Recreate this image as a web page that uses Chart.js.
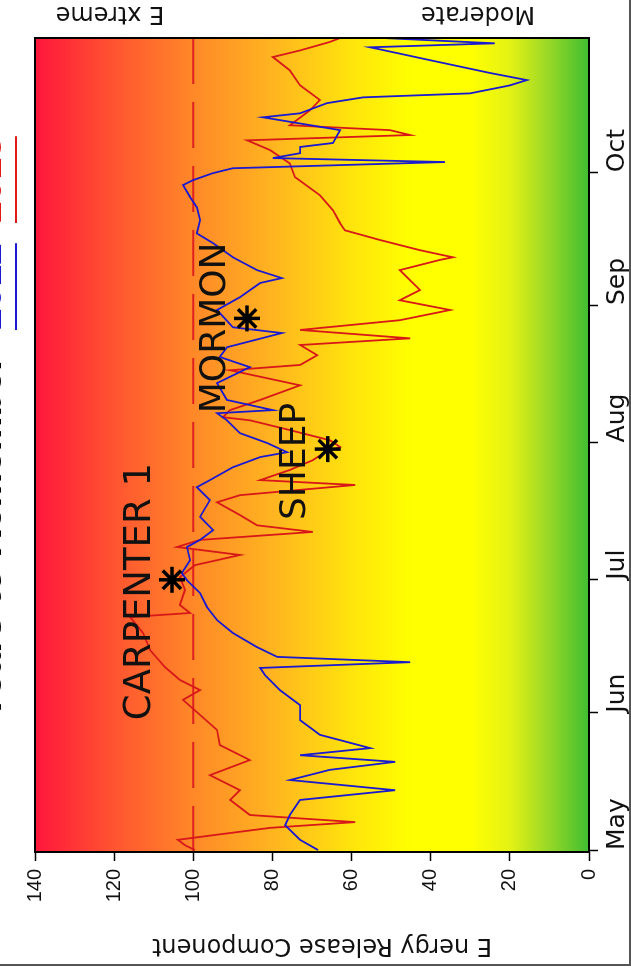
<!DOCTYPE html>
<html>
<head>
<meta charset="utf-8">
<script src="https://cdn.jsdelivr.net/npm/chart.js@4.4.1/dist/chart.umd.min.js"></script>
<style>
  html, body { margin: 0; padding: 0; background: #fff; overflow: hidden; }
  /* chart is drawn landscape, then turned a quarter counter-clockwise */
  #wrap { position: absolute; left: 0; top: 0; width: 968px; height: 631px;
          transform-origin: 0 0; transform: translate(0, 968px) rotate(-90deg); }
</style>
</head>
<body>
<div id="wrap"><canvas id="ercChart" width="968" height="631"></canvas></div>
<script>
// Axis ticks (day index counted from May 1)
const monthLabels = ['May', 'Jun', 'Jul', 'Aug', 'Sep', 'Oct'];
const monthDays = [0, 31, 61, 92, 123, 153];
const ercTicks = [0, 20, 40, 60, 80, 100, 120, 140];

// 2012 season (blue)
const days2012 = [0, 2.3, 5.6, 7.9, 11.3, 13.5, 15.8, 18.1, 19.9, 21.4, 23.0, 26.0, 29.3, 32.7, 36.1, 39.5,
  41.1, 42.4, 43.6, 45.8, 49.0, 51.9, 54.8, 58.0, 60.9, 62.5, 65.4, 68.4, 70.0, 72.2, 75.2, 79.0,
  81.9, 83.5, 86.4, 88.7, 89.8, 91.9, 94.1, 97.0, 98.6, 99.3, 101.6, 105.4, 109.0, 111.3, 113.5, 116.7,
  118.0, 121.9, 124.8, 128.0, 129.1, 130.9, 133.8, 137.0, 139.2, 142.2, 145.1, 147.4, 150.1, 151.2,
  152.8, 153.9, 155.3, 156.2, 157.3, 158.7, 159.6, 162.5, 165.4, 166.3, 168.6, 169.9, 170.8, 172.6,
  173.8, 175.4, 176.7, 178.3, 179.9, 181.2, 182.1, 183.3];
const erc2012 = [68.5, 73, 76.8, 75.6, 73, 49, 75.6, 65.5, 49, 73, 55.3, 68, 73, 73, 78.1, 81.9,
  83.1, 45.2, 78.8, 83.9, 90, 94, 96.5, 98.3, 101.6, 102.9, 100.8, 101.6, 98.3, 95, 98.3, 95.8,
  99.1, 95.8, 90, 83.1, 76.3, 81.4, 88.2, 91.5, 94, 79.9, 91.5, 94, 85.7, 93.3, 91.5, 77.6,
  90, 94, 88.2, 83.1, 77.6, 83.9, 90, 95, 99.1, 98.3, 99.1, 100.8, 102.6, 100.1,
  95, 90, 36.4, 79.9, 73, 73, 64.7, 62.9, 82.4, 73, 66.2, 57.1, 30.1, 20,
  15.7, 25, 31.8, 40.2, 48.5, 55.3, 23.8, 52.1];

// 2013 season (red)
const days2013 = [0, 1.1, 2.3, 3.4, 5.0, 6.3, 7.9, 11.3, 13.5, 16.9, 20.3, 23.7, 27.1, 30.5, 33.9, 36.1,
  38.4, 41.3, 45.1, 49.0, 52.6, 53.5, 55.3, 58.7, 61.6, 64.3, 66.6, 68.4, 70.0, 71.8, 73.3, 75.6,
  78.5, 80.1, 82.4, 83.5, 85.8, 88.0, 89.8, 91.0, 92.5, 94.8, 97.0, 97.7, 99.3, 101.6, 104.9, 108.3,
  109.5, 111.7, 114.0, 115.5, 117.4, 119.6, 121.9, 124.1, 126.4, 128.6, 130.9, 133.2, 133.8, 135.4,
  137.7, 139.9, 141.5, 144.4, 147.8, 151.9, 155.0, 158.0, 160.2, 161.4, 162.5, 163.6, 167.0, 169.3,
  172.6, 176.0, 179.0, 180.5, 182.4, 183.3];
const erc2013 = [99.6, 102.1, 103.9, 94.5, 80.6, 59.1, 85.7, 90.7, 88.2, 95.8, 85.7, 93.3, 94, 98.3, 102.6, 98.3,
  103.4, 107.2, 110.9, 112.7, 116, 100.8, 103.4, 102.1, 103.4, 99.6, 88.2, 104.1, 98.3, 69.8, 83.9, 88.2,
  94, 88.2, 59.1, 83.1, 75.6, 69.8, 66.7, 62.9, 65.5, 75.6, 85.7, 92.5, 90.7, 83.1, 73, 90.7,
  73, 68.7, 73, 45.2, 73, 47.8, 35.1, 47.8, 42.7, 45.2, 47.8, 37.7, 34.4, 42.7,
  52.8, 61.7, 62.9, 64.7, 68, 74.3, 75.6, 80.6, 86.4, 45.2, 50.3, 75.6, 70.5, 68,
  73, 75.6, 79.9, 73, 65.5, 62.9];

// Fire starts
const fireNames = ['CARPENTER 1', 'SHEEP', 'MORMON'];
const fireDays = [61, 90.5, 120];
const fireErc = [105.4, 66, 86.4];

const extremeErc = 100;
const dayMin = -0.45;
const dayMax = 183.3;

function pairs(xs, ys) {
    return xs.map((x, i) => ({ x: x, y: ys[i] }));
}

// where each fire name sits (day of first letter, ERC of baseline)
const labelSpots = [
    { day: 29.3, erc: 110.9, size: 37 },
    { day: 74.5, erc: 71.8, size: 36 },
    { day: 98.6, erc: 92, size: 36 }
];

const decor = {
    id: 'decor',
    beforeDatasetsDraw(chart) {
        const { ctx, chartArea: a, scales: { y } } = chart;
        const y0 = y.getPixelForValue(0);
        const y1 = y.getPixelForValue(140);
        const g = ctx.createLinearGradient(0, y0, 0, y1);
        const stops = [
            [0, 'rgb(64,190,48)'], [10, 'rgb(150,215,40)'], [20, 'rgb(228,242,20)'],
            [30, 'rgb(255,255,0)'], [45, 'rgb(255,255,0)'], [60, 'rgb(255,228,12)'],
            [80, 'rgb(255,180,32)'], [100, 'rgb(255,136,40)'], [120, 'rgb(255,84,48)'],
            [140, 'rgb(255,22,60)']
        ];
        stops.forEach(s => g.addColorStop(s[0] / 140, s[1]));
        ctx.save();
        ctx.fillStyle = g;
        ctx.fillRect(a.left, a.top, a.width, a.height);
        ctx.restore();
    },
    afterDatasetsDraw(chart) {
        const { ctx, chartArea: a, scales: { x, y } } = chart;
        ctx.save();
        ctx.fillStyle = '#111';
        ctx.textAlign = 'left';
        ctx.textBaseline = 'alphabetic';
        fireNames.forEach((name, i) => {
            const s = labelSpots[i];
            ctx.font = s.size + 'px "DejaVu Sans"';
            ctx.fillText(name, x.getPixelForValue(s.day), y.getPixelForValue(s.erc));
        });
        ctx.strokeStyle = '#000';
        ctx.lineWidth = 2;
        ctx.strokeRect(a.left, a.top, a.width, a.height);
        ctx.restore();
    },
    afterDraw(chart) {
        const { ctx, width, height, chartArea: a } = chart;
        ctx.save();
        // title, mostly running off the top edge
        ctx.font = 'bold 39px "Liberation Sans"';
        ctx.textBaseline = 'alphabetic';
        ctx.textAlign = 'left';
        ctx.fillStyle = '#000';
        ctx.fillText('Years to Remember', 248, 1);
        const parts = [['2012', '#1a1ad0', 638], ['2013', '#e01818', 745]];
        parts.forEach(p => {
            ctx.fillStyle = p[1];
            ctx.fillText(p[0], p[2], 1);
            const w = ctx.measureText(p[0]).width;
            ctx.strokeStyle = p[1];
            ctx.lineWidth = 2;
            ctx.beginPath();
            ctx.moveTo(p[2], 16);
            ctx.lineTo(p[2] + w, 16);
            ctx.stroke();
        });
        // y axis title and side labels
        ctx.fillStyle = '#111';
        ctx.font = '24px "DejaVu Sans"';
        ctx.textAlign = 'center';
        ctx.textBaseline = 'middle';
        ctx.save();
        ctx.translate(23, (a.top + a.bottom) / 2 + 10);
        ctx.rotate(-Math.PI / 2);
        ctx.fillText('E nergy Release Component', 0, 0);
        ctx.restore();
        ctx.textBaseline = 'alphabetic';
        [['E xtreme', 110], ['Moderate', 478]].forEach(t => {
            ctx.save();
            ctx.translate(961, t[1]);
            ctx.rotate(-Math.PI / 2);
            ctx.fillText(t[0], 0, 0);
            ctx.restore();
        });
        // outer frame (left and bottom)
        ctx.strokeStyle = '#555';
        ctx.lineWidth = 2;
        ctx.beginPath();
        ctx.moveTo(3, 0); ctx.lineTo(3, height - 1);
        ctx.lineTo(width, height - 1);
        ctx.stroke();
        ctx.restore();
    }
};

const axisGrid = { drawOnChartArea: false, drawTicks: true, tickLength: 9, tickColor: '#000', tickWidth: 1.5 };

new Chart(document.getElementById('ercChart'), {
    type: 'line',
    data: {
        datasets: [
            {
                type: 'scatter', label: 'Fires', data: pairs(fireDays, fireErc),
                pointStyle: 'star', pointRadius: 13, borderWidth: 3.5,
                borderColor: '#000', backgroundColor: '#000', showLine: false, order: 0
            },
            {
                label: '2012', data: pairs(days2012, erc2012), borderColor: '#1a1ad0',
                borderWidth: 1.8, pointRadius: 0, tension: 0, order: 1
            },
            {
                label: '2013', data: pairs(days2013, erc2013), borderColor: '#d81818',
                borderWidth: 1.8, pointRadius: 0, tension: 0, order: 2
            },
            {
                label: 'ERC 100', data: [{ x: dayMin, y: extremeErc }, { x: dayMax, y: extremeErc }],
                borderColor: '#e02020', borderWidth: 2, borderDash: [46, 18], pointRadius: 0, order: 3
            }
        ]
    },
    options: {
        responsive: false,
        animation: false,
        devicePixelRatio: 1,
        layout: { padding: { top: 35, right: 38, left: 0, bottom: 0 } },
        plugins: { legend: { display: false }, tooltip: { enabled: false } },
        scales: {
            x: {
                type: 'linear', min: dayMin, max: dayMax,
                afterBuildTicks: s => { s.ticks = monthDays.map(v => ({ value: v })); },
                afterFit: s => { s.height = 42; },
                grid: axisGrid,
                border: { display: false },
                ticks: {
                    align: 'start', padding: 4, color: '#111', maxRotation: 0, autoSkip: false,
                    font: { family: 'DejaVu Sans', size: 25 },
                    callback: (v, i) => monthLabels[i]
                }
            },
            y: {
                min: 0, max: 140,
                afterBuildTicks: s => { s.ticks = ercTicks.map(v => ({ value: v })); },
                afterFit: s => { s.width = 116; },
                grid: axisGrid,
                border: { display: false },
                ticks: { padding: 8, color: '#111', font: { family: 'Liberation Sans', size: 20 } }
            }
        }
    },
    plugins: [decor]
});
</script>
</body>
</html>
